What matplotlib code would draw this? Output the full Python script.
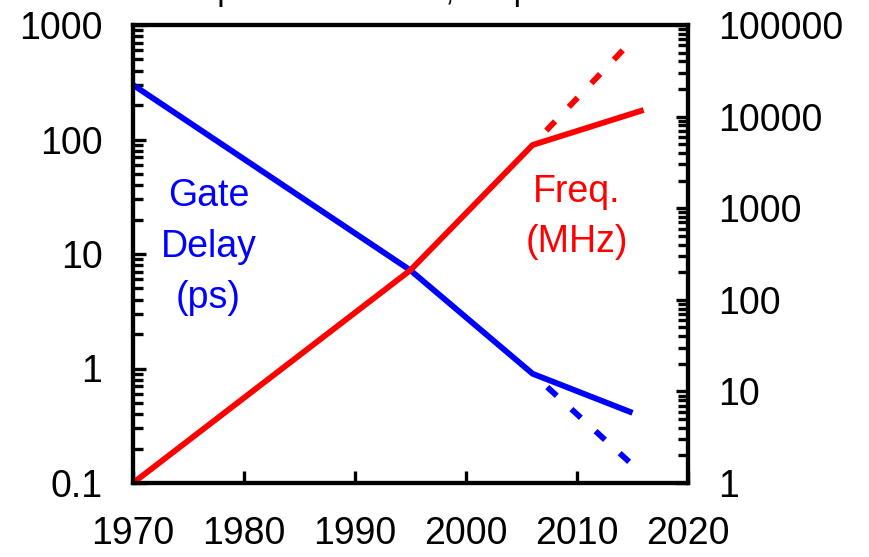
import matplotlib
matplotlib.use('Agg')
import matplotlib.pyplot as plt
from matplotlib.ticker import LogLocator, FixedLocator, FixedFormatter, NullFormatter

plt.rcParams['font.family'] = ['Liberation Sans', 'DejaVu Sans']

# gate delay (ps), left axis
delay_yr = [1970, 1995, 2006, 2015]
delay_ps = [300, 7.2, 0.9, 0.41]
delay_trend_yr = [2006, 2015]
delay_trend_ps = [0.9, 0.144]

# clock frequency (MHz), right axis
freq_yr = [1970, 1995, 2006, 2016]
freq_mhz = [1, 211, 4900, 11800]
freq_trend_yr = [2006, 2015]
freq_trend_mhz = [4900, 68500]

x_ticks = [1970, 1980, 1990, 2000, 2010, 2020]
left_ticks = [0.1, 1, 10, 100, 1000]
left_labels = ['0.1', '1', '10', '100', '1000']
right_ticks = [1, 10, 100, 1000, 10000, 100000]
right_labels = ['1', '10', '100', '1000', '10000', '100000']

BLUE = '#0000ff'
RED = '#ff0000'
FS = 27
LW = 4.2
dash = (2.2, (2.2, 3.4))

fig = plt.figure(figsize=(8.69, 5.57), dpi=100)
ax = fig.add_axes([133/869, 1-483/557, (688-133)/869, (483-25)/557])
ax2 = ax.twinx()

ax.plot(delay_yr, delay_ps, color=BLUE, lw=LW, solid_joinstyle='miter', solid_capstyle='butt')
ax.plot(delay_trend_yr, delay_trend_ps, color=BLUE, lw=LW, linestyle=dash)
ax2.plot(freq_yr, freq_mhz, color=RED, lw=LW, solid_joinstyle='miter', solid_capstyle='butt')
ax2.plot(freq_trend_yr, freq_trend_mhz, color=RED, lw=LW, linestyle=dash)

ax.set_xlim(1970, 2020)
ax.set_yscale('log')
ax.set_ylim(0.1, 1000)
ax2.set_yscale('log')
ax2.set_ylim(1, 100000)

ax.xaxis.set_major_locator(FixedLocator(x_ticks))
ax.set_xticklabels([str(v) for v in x_ticks])
ax.yaxis.set_major_locator(FixedLocator(left_ticks))
ax.yaxis.set_major_formatter(FixedFormatter(left_labels))
ax.yaxis.set_minor_locator(LogLocator(base=10, subs=range(2, 10)))
ax.yaxis.set_minor_formatter(NullFormatter())
ax2.yaxis.set_major_locator(FixedLocator(right_ticks))
ax2.yaxis.set_major_formatter(FixedFormatter(right_labels))
ax2.yaxis.set_minor_locator(LogLocator(base=10, subs=range(2, 10)))
ax2.yaxis.set_minor_formatter(NullFormatter())

for a in (ax, ax2):
    for s in a.spines.values():
        s.set_linewidth(3.0)
    a.tick_params(which='major', direction='in', length=9, width=2.4, labelsize=FS, pad=22)
    a.tick_params(which='minor', direction='in', length=7, width=2.4)
ax.tick_params(axis='x', pad=24)
ax.tick_params(axis='y', right=False)
ax2.tick_params(axis='y', left=False)

ax.text(1976.8, 11.5, 'Gate\nDelay\n(ps)', color=BLUE, fontsize=FS, ha='center', va='center', linespacing=1.55)
ax.text(2010.0, 21, 'Freq.\n(MHz)', color=RED, fontsize=FS, ha='center', va='center', linespacing=1.48)

# title is cut off at the top edge, only descenders remain
fig.text(195/869, 1.0, 'Speed Increases, Stops', fontsize=24, ha='left', va='baseline')

fig.savefig('out.png', dpi=100)
